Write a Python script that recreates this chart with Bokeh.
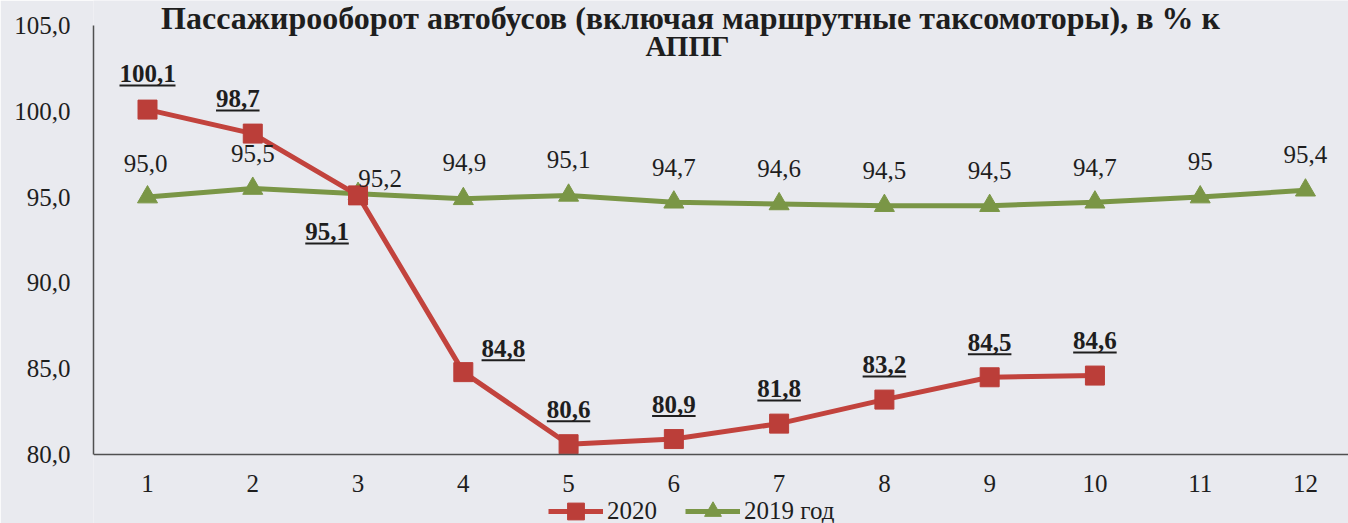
from bokeh.plotting import figure
from bokeh.models import Range1d, FixedTicker, Label, Legend, LegendItem, ColumnDataSource
from bokeh.embed import file_html
from bokeh.resources import INLINE

# ---------------- data ----------------
MONTHS = list(range(1, 13))
X_TICK_LABELS = [str(m) for m in MONTHS]
Y_TICKS = [80, 85, 90, 95, 100, 105]
Y_TICK_LABELS = ["80,0", "85,0", "90,0", "95,0", "100,0", "105,0"]

SERIES_NAMES = ["2020", "2019 год"]
V2020 = [100.1, 98.7, 95.1, 84.8, 80.6, 80.9, 81.8, 83.2, 84.5, 84.6]
L2020 = ["100,1", "98,7", "95,1", "84,8", "80,6", "80,9", "81,8", "83,2", "84,5", "84,6"]
V2019 = [95.0, 95.5, 95.2, 94.9, 95.1, 94.7, 94.6, 94.5, 94.5, 94.7, 95.0, 95.4]
L2019 = ["95,0", "95,5", "95,2", "94,9", "95,1", "94,7", "94,6", "94,5", "94,5", "94,7", "95", "95,4"]

TITLE_LINES = ["Пассажирооборот автобусов (включая маршрутные таксомоторы), в % к", "АППГ"]

# ---------------- layout / style ----------------
FONT = "Liberation Serif"
FS = "25px"
BG = "#e9eaef"
RED = "#c2433d"
GREEN = "#7a9646"
TXT = "#1e1e1e"

W, H = 1348, 523
LEFT = 93
FRAME_W, FRAME_H = W - LEFT, H
AX_TOP_PX, AX_BOTTOM_PX = 25, 454          # where 105 and 80 sit (page px)
X0 = 0.487
PPX = 105.27
X1 = X0 + FRAME_W / PPX
YMIN, YMAX = Y_TICKS[0], Y_TICKS[-1]
PPY = (AX_BOTTOM_PX - AX_TOP_PX) / (YMAX - YMIN)
Y1 = YMAX + AX_TOP_PX / PPY
Y0 = YMIN - (H - AX_BOTTOM_PX) / PPY

# label offsets in screen px (dx, dy; dy positive = down)
OFF2020 = [(0, -36), (-15, -35), (-31, 36), (40, -24), (0, -35), (0, -35),
           (0, -35), (0, -35), (0, -35), (0, -35)]
OFF2019 = [(-2, -34), (0, -35), (22, -15), (1, -36), (0, -36), (0, -35),
           (0, -35), (0, -35), (0, -35), (0, -35), (0, -36), (0, -36)]

p = figure(width=W, height=H,
           x_range=Range1d(X0, X1), y_range=Range1d(Y0, Y1),
           output_backend="svg", toolbar_location=None,
           min_border_left=LEFT, min_border_right=0,
           min_border_top=0, min_border_bottom=0)
p.background_fill_color = BG
p.border_fill_color = BG
p.outline_line_color = None
p.xgrid.grid_line_color = None
p.ygrid.grid_line_color = None

# axes
p.xaxis.ticker = FixedTicker(ticks=MONTHS)
p.xaxis.major_label_overrides = {m: s for m, s in zip(MONTHS, X_TICK_LABELS)}
p.xaxis.fixed_location = YMIN
p.yaxis.ticker = FixedTicker(ticks=Y_TICKS)
p.yaxis.major_label_overrides = {t: s for t, s in zip(Y_TICKS, Y_TICK_LABELS)}
p.yaxis.bounds = (YMIN, YMAX)
for ax in (p.xaxis, p.yaxis):
    ax.axis_line_color = "#505050"
    ax.axis_line_width = 1.5
    ax.major_tick_line_color = None
    ax.minor_tick_line_color = None
    ax.major_tick_out = 0
    ax.major_tick_in = 0
    ax.major_label_text_font = FONT
    ax.major_label_text_font_size = FS
    ax.major_label_text_color = TXT
p.xaxis.major_label_standoff = 20
p.yaxis.major_label_standoff = 23

# series
x20 = MONTHS[:len(V2020)]
src20 = ColumnDataSource(dict(x=x20, y=V2020, lab=L2020,
                              dx=[o[0] for o in OFF2020], dy=[o[1] for o in OFF2020]))
src19 = ColumnDataSource(dict(x=MONTHS, y=V2019, lab=L2019,
                              dx=[o[0] for o in OFF2019], dy=[o[1] for o in OFF2019]))

g_line = p.line("x", "y", source=src19, line_color=GREEN, line_width=5)
g_mark = p.scatter("x", "y", source=src19, marker="triangle", size=20,
                   fill_color=GREEN, line_color=GREEN)
r_line = p.line("x", "y", source=src20, line_color=RED, line_width=5)
r_mark = p.scatter("x", "y", source=src20, marker="square", size=19,
                   fill_color="#bb3e39", line_color="#bb3e39")

# data labels
p.text("x", "y", text="lab", source=src19, x_offset="dx", y_offset="dy",
       text_align="center", text_baseline="middle",
       text_font=FONT, text_font_size=FS, text_color=TXT)
p.text("x", "y", text="lab", source=src20, x_offset="dx", y_offset="dy",
       text_align="center", text_baseline="middle",
       text_font=FONT, text_font_size=FS, text_font_style="bold", text_color=TXT)

# underlines for 2020 labels (derived from data points + offsets)
ux = [x + o[0] / PPX for x, o in zip(x20, OFF2020)]
uy = [y - (o[1] + 12) / PPY for y, o in zip(V2020, OFF2020)]
uw = [sum(12.5 if c.isdigit() else 6 for c in s) for s in L2020]
p.scatter(ux, uy, marker="dash", size=uw, line_color=TXT, line_width=2)

# title (two lines, screen units relative to the frame's bottom-left)
p.add_layout(Label(x=597, y=H - 17, x_units="screen", y_units="screen",
                   text=TITLE_LINES[0], text_align="center", text_baseline="alphabetic",
                   text_font=FONT, text_font_size="32px", text_font_style="bold",
                   text_color=TXT))
p.add_layout(Label(x=594, y=H - 45, x_units="screen", y_units="screen",
                   text=TITLE_LINES[1], text_align="center", text_baseline="alphabetic",
                   text_font=FONT, text_font_size="29px", text_font_style="bold",
                   text_color=TXT))

# legend below the axis
legend = Legend(items=[LegendItem(label=SERIES_NAMES[0], renderers=[r_line, r_mark]),
                       LegendItem(label=SERIES_NAMES[1], renderers=[g_line, g_mark])],
                location=(455, -9), orientation="horizontal",
                glyph_width=55, glyph_height=42, label_standoff=4, spacing=28,
                padding=0, margin=0,
                label_text_font=FONT, label_text_font_size=FS, label_text_color=TXT,
                background_fill_alpha=0, border_line_alpha=0)
p.add_layout(legend, "center")

open("out.html", "w").write(file_html(p, INLINE))
